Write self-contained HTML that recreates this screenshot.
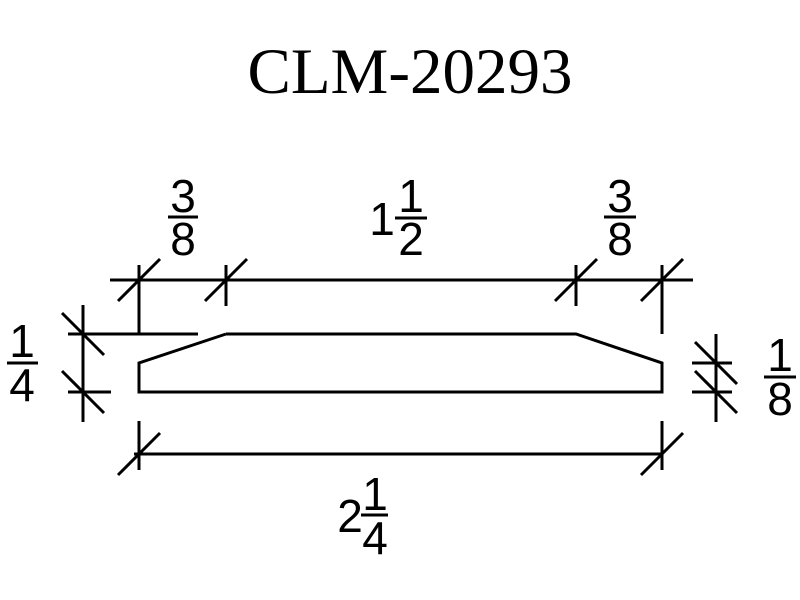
<!DOCTYPE html>
<html><head><style>html,body{margin:0;background:#fff;overflow:hidden}svg{display:block}</style></head><body>
<svg width="800" height="600" viewBox="0 0 800 600" xmlns="http://www.w3.org/2000/svg">
<g stroke="#000" stroke-width="3" fill="none" stroke-linecap="butt">
<polyline points="226,334 576,334 662,363 662,392 139,392 139,363 226,334"/>
<line x1="110" y1="280" x2="693" y2="280"/>
<line x1="139" y1="265" x2="139" y2="334"/>
<line x1="226" y1="265" x2="226" y2="306"/>
<line x1="576" y1="265" x2="576" y2="306"/>
<line x1="662" y1="265" x2="662" y2="334"/>
<line x1="118" y1="301" x2="160" y2="259"/>
<line x1="205" y1="301" x2="247" y2="259"/>
<line x1="555" y1="301" x2="597" y2="259"/>
<line x1="641" y1="301" x2="683" y2="259"/>
<line x1="68" y1="334" x2="198" y2="334"/>
<line x1="68" y1="392" x2="111" y2="392"/>
<line x1="83" y1="305" x2="83" y2="422"/>
<line x1="62" y1="313" x2="104" y2="355"/>
<line x1="62" y1="371" x2="104" y2="413"/>
<line x1="692" y1="363" x2="732" y2="363"/>
<line x1="692" y1="392" x2="732" y2="392"/>
<line x1="716" y1="334" x2="716" y2="422"/>
<line x1="695" y1="342" x2="737" y2="384"/>
<line x1="695" y1="371" x2="737" y2="413"/>
<line x1="134" y1="454" x2="662" y2="454"/>
<line x1="139" y1="421" x2="139" y2="470"/>
<line x1="662" y1="421" x2="662" y2="470"/>
<line x1="118" y1="475" x2="160" y2="433"/>
<line x1="641" y1="475" x2="683" y2="433"/>
<line x1="168" y1="217" x2="198" y2="217"/>
<line x1="395" y1="218" x2="427" y2="218"/>
<line x1="604" y1="217" x2="636" y2="217"/>
<line x1="7" y1="363" x2="38" y2="363"/>
<line x1="764" y1="377" x2="796" y2="377"/>
<line x1="361" y1="515" x2="388" y2="515"/>
</g>
<text x="410" y="93" font-family="Liberation Serif, serif" font-size="65" text-anchor="middle">CLM-20293</text>
<g font-family="Liberation Sans, sans-serif" font-size="46" text-anchor="middle" fill="#000">
<text x="183" y="212">3</text><text x="183" y="255">8</text>
<text x="382" y="235">1</text>
<text x="411" y="212">1</text><text x="411" y="255">2</text>
<text x="620" y="212">3</text><text x="620" y="255">8</text>
<text x="22" y="357">1</text><text x="22" y="401">4</text>
<text x="780" y="371">1</text><text x="780" y="415">8</text>
<text x="350" y="532">2</text>
<text x="375" y="510">1</text><text x="375" y="554">4</text>
</g>
</svg>
</body></html>
